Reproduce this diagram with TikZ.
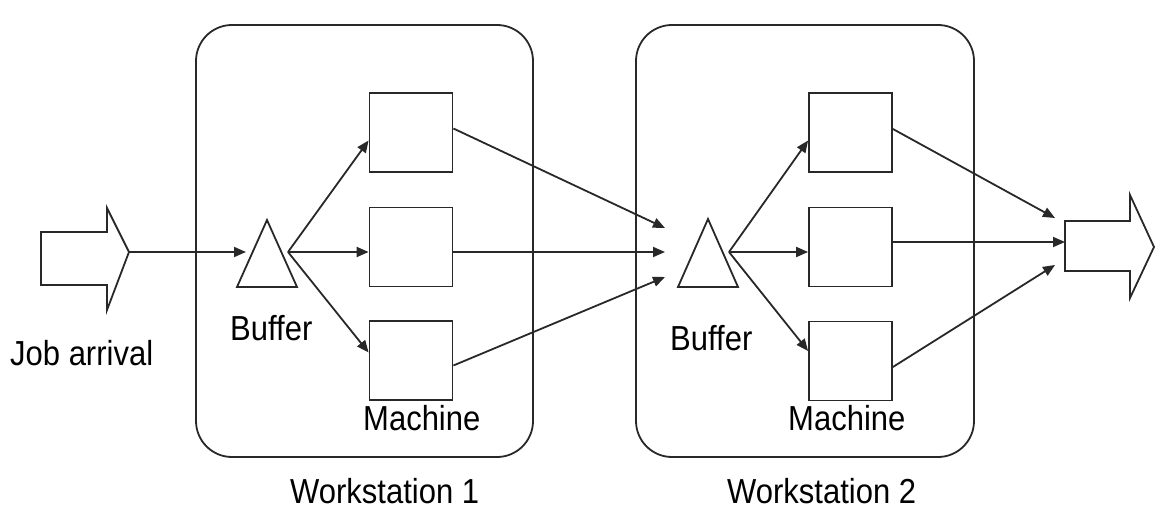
\documentclass[tikz,border=0pt]{standalone}
\usepackage{fontspec}
\setmainfont{Liberation Sans}
\usetikzlibrary{arrows.meta,calc}
\definecolor{ln}{RGB}{40,40,40}
\begin{document}
\begin{tikzpicture}[x=1pt,y=-1pt,
  conn/.style={draw=ln,line width=1.8pt,-{Triangle[length=12pt,width=10pt]}},
  plain/.style={draw=ln,line width=1.8pt},
  machine/.style={draw=ln,line width=1.8pt,minimum width=83pt,minimum height=79pt,inner sep=0pt},
  ws/.style={draw=ln,line width=1.8pt,rounded corners=36pt},
  lbl/.style={inner sep=0pt,anchor=base west,font=\fontsize{31}{31}\selectfont}]
\useasboundingbox (0,0) rectangle (1170,524);
% workstation frames
\draw[ws] (196,25) rectangle (533,457);
\draw[ws] (636,25) rectangle (974,457);
% machines
\node[machine] (m11) at (411,132.5) {};
\node[machine] (m12) at (411,247) {};
\node[machine] (m13) at (411,360.5) {};
\node[machine] (m21) at (850.5,132.5) {};
\node[machine] (m22) at (850.5,247) {};
\node[machine] (m23) at (850.5,361) {};
% buffers
\draw[plain,line join=miter] (267,220) -- (297,287) -- (237,287) -- cycle;
\draw[plain,line join=miter] (708,219) -- (738,287) -- (678,287) -- cycle;
\coordinate (b1in) at (246,252);
\coordinate (b1out) at (288,252);
\coordinate (b2in) at (665,252);
\coordinate (b2out) at (729,252);
\coordinate (b2a) at (665,228);
\coordinate (b2c) at (665,277);
% job arrival arrow
\draw[plain,line join=miter] (41,232) -- (107,232) -- (107,208) -- (129,252) -- (107,310) -- (107,285) -- (41,285) -- cycle;
\coordinate (ja) at (129,252);
% output arrow
\draw[plain,line join=miter] (1065,221) -- (1130,221) -- (1130,195) -- (1154,247) -- (1130,298) -- (1130,271) -- (1065,271) -- cycle;
\coordinate (outa) at (1055,218);
\coordinate (outb) at (1065,242);
\coordinate (outc) at (1055,265);
% connectors
\draw[conn] (ja) -- (b1in);
\draw[conn] (b1out) -- ([yshift=-8pt]m11.west);
\draw[conn] (b1out) -- (m12.west |- b1out);
\draw[conn] (b1out) -- ([yshift=8pt]m13.west);
\draw[conn] ([yshift=4pt]m11.east) -- (b2a);
\draw[conn] (m12.east |- b2in) -- (b2in);
\draw[conn] ([yshift=-5pt]m13.east) -- (b2c);
\draw[conn] (b2out) -- ([yshift=-8pt]m21.west);
\draw[conn] (b2out) -- (m22.west |- b2out);
\draw[conn] (b2out) -- ([yshift=10pt]m23.west);
\draw[conn] ([yshift=3.5pt]m21.east) -- (outa);
\draw[conn] (m22.east |- outb) -- (outb);
\draw[conn] ([yshift=-6pt]m23.east) -- (outc);
% labels
\node[lbl] (tja) at (10,365) {\scalebox{1}[1.12]{Job arrival}};
\node[lbl] (tb1) at (230,340) {\scalebox{1}[1.12]{Buffer}};
\node[lbl] (tb2) at (670,350) {\scalebox{1}[1.12]{Buffer}};
\node[lbl] (tm1) at (363,430) {\scalebox{1}[1.12]{Machine}};
\node[lbl] (tm2) at (788,430) {\scalebox{1}[1.12]{Machine}};
\node[lbl] (tw1) at (290,503) {\scalebox{1}[1.12]{Workstation 1}};
\node[lbl] (tw2) at (727,503) {\scalebox{1}[1.12]{Workstation 2}};
\end{tikzpicture}
\end{document}
